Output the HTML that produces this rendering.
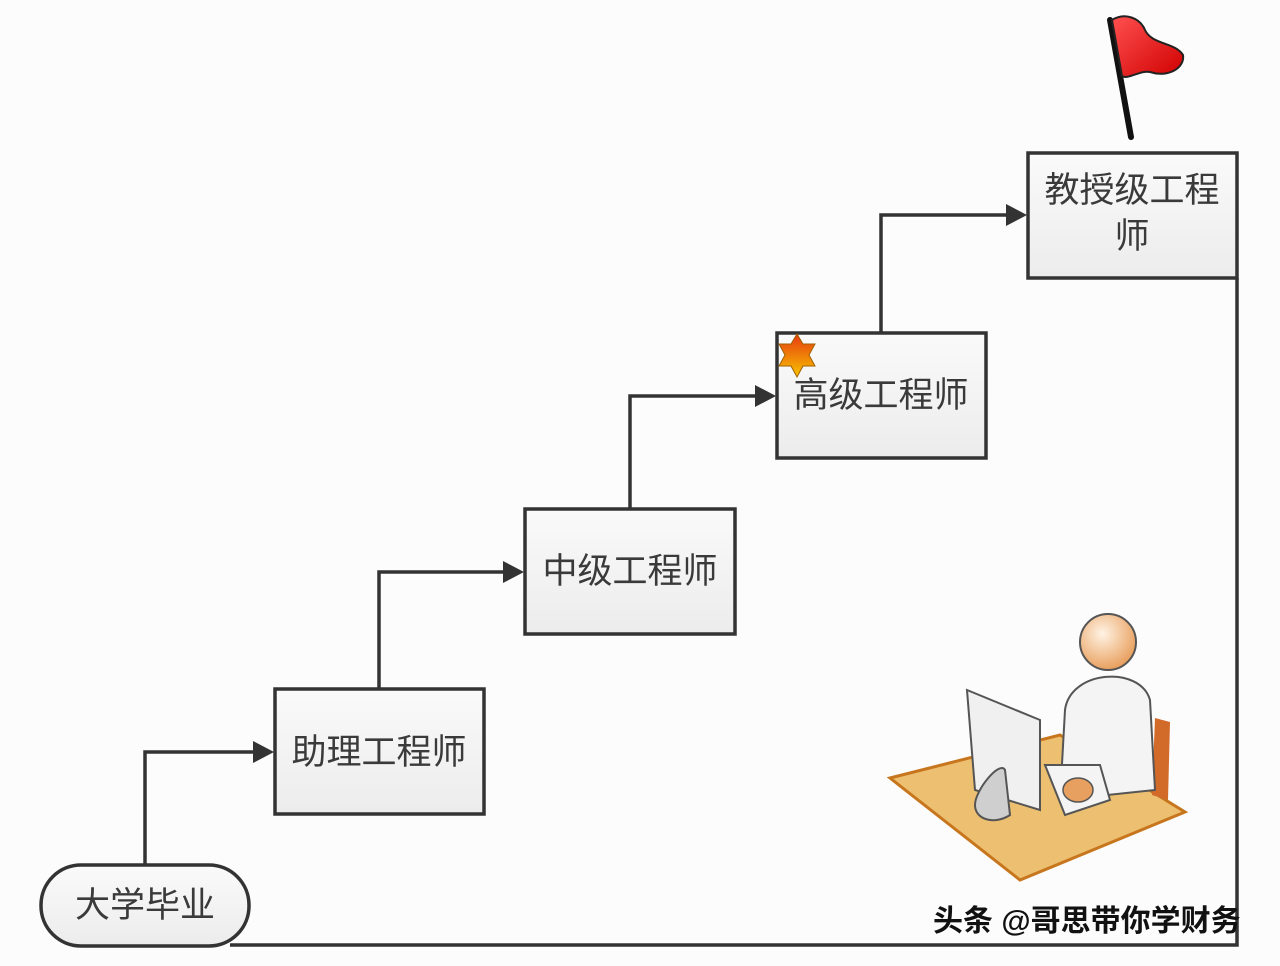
<!DOCTYPE html>
<html><head><meta charset="utf-8"><style>
html,body{margin:0;padding:0;background:#fcfcfc;}
svg{display:block}
text{font-family:"Liberation Sans","Noto Sans CJK SC",sans-serif;fill:#3a3a3a;}
</style></head><body>
<svg width="1280" height="966" viewBox="0 0 1280 966" xmlns="http://www.w3.org/2000/svg">
<defs>
<linearGradient id="bx" x1="0" y1="0" x2="0" y2="1"><stop offset="0" stop-color="#fafafa"/><stop offset="1" stop-color="#ececec"/></linearGradient>
<linearGradient id="st" x1="0" y1="0" x2="0" y2="1"><stop offset="0" stop-color="#e83a10"/><stop offset="1" stop-color="#f6c400"/></linearGradient>
<radialGradient id="hd" cx="0.4" cy="0.35" r="0.7"><stop offset="0" stop-color="#fff3e4"/><stop offset="1" stop-color="#e79a55"/></radialGradient>
<linearGradient id="fl" x1="0" y1="0" x2="1" y2="1"><stop offset="0" stop-color="#ff5050"/><stop offset="1" stop-color="#d00000"/></linearGradient>
</defs>
<g fill="none" stroke="#333" stroke-width="3.5">
<path d="M145,864 V752 H256"/>
<path d="M379,688 V572 H506"/>
<path d="M630,508 V396 H758"/>
<path d="M881,332 V215 H1009"/>
<path d="M1237,278 V945 H230"/>
</g>
<g fill="#333">
<path d="M253,741 L274,752 L253,763 z"/>
<path d="M503,561 L524,572 L503,583 z"/>
<path d="M755,385 L776,396 L755,407 z"/>
<path d="M1006,204 L1027,215 L1006,226 z"/>
</g>
<g stroke="#333" stroke-width="3.5" fill="url(#bx)">
<rect x="275" y="689" width="209" height="125"/>
<rect x="525" y="509" width="210" height="125"/>
<rect x="777" y="333" width="209" height="125"/>
<rect x="1028" y="153" width="209" height="125"/>
<rect x="41" y="865" width="208" height="81" rx="40"/>
</g>
<text x="379" y="764" font-size="35" text-anchor="middle">助理工程师</text>
<text x="630" y="583" font-size="35" text-anchor="middle">中级工程师</text>
<text x="881" y="407" font-size="35" text-anchor="middle">高级工程师</text>
<text x="1132" y="202" font-size="35" text-anchor="middle">教授级工程</text>
<text x="1132" y="248" font-size="35" text-anchor="middle">师</text>
<text x="145" y="917" font-size="35" text-anchor="middle">大学毕业</text>
<polygon points="797,334 803,344 815,344 809,355 815,366 803,366 797,377 791,366 779,366 785,355 779,344 791,344" fill="url(#st)" stroke="#a06000" stroke-width="1"/>
<line x1="1110" y1="20" x2="1131" y2="137" stroke="#111" stroke-width="6" stroke-linecap="round"/>
<path d="M1112,20 C1125,12 1140,18 1145,30 C1152,45 1175,42 1183,55 C1185,68 1168,78 1150,72 C1140,70 1128,80 1122,76 Z" fill="url(#fl)" stroke="#222" stroke-width="2"/>
<polygon points="890,778 1060,735 1185,812 1020,880" fill="#ecc070" stroke="#c8761e" stroke-width="3"/>
<polygon points="1155,718 1170,722 1168,800 1152,795" fill="#d26a2a"/>
<path d="M1065,710 C1070,670 1140,665 1150,700 L1155,790 L1060,800 Z" fill="#f4f4f4" stroke="#555" stroke-width="2"/>
<circle cx="1108" cy="642" r="28" fill="url(#hd)" stroke="#555" stroke-width="2"/>
<path d="M1045,765 L1100,765 L1110,800 L1065,815 Z" fill="#f4f4f4" stroke="#555" stroke-width="2"/>
<ellipse cx="1078" cy="790" rx="15" ry="12" fill="#e8a060" stroke="#555" stroke-width="1.5"/>
<polygon points="967,690 1040,720 1040,810 975,790" fill="#f0f0f0" stroke="#555" stroke-width="2"/>
<path d="M975,805 C975,790 1000,760 1005,770 L1010,815 C995,825 975,820 975,805 Z" fill="#cfcfcf" stroke="#555" stroke-width="2"/>
<text x="933" y="931" font-size="30" font-weight="bold" style="fill:#111">头条 @哥思带你学财务</text>
</svg>
</body></html>
